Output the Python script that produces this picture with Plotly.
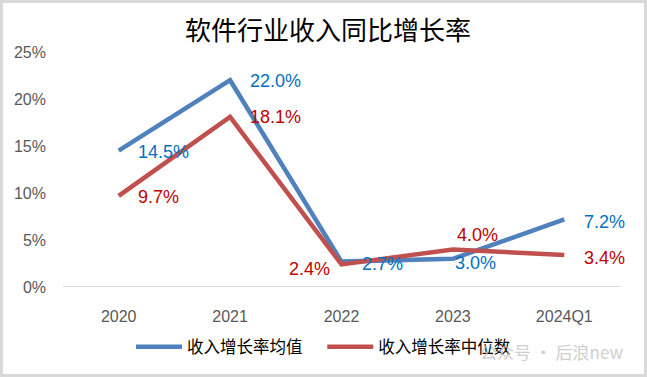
import plotly.graph_objects as go

categories = ["2020", "2021", "2022", "2023", "2024Q1"]
mean_growth = [14.5, 22.0, 2.7, 3.0, 7.2]
median_growth = [9.7, 18.1, 2.4, 4.0, 3.4]
y_ticks = [0, 5, 10, 15, 20, 25]
y_tick_labels = [f"{v}%" for v in y_ticks]

series_names = ["收入增长率均值", "收入增长率中位数"]
title_text = "软件行业收入同比增长率"
watermark_text = "公众号 · 后浪new"

BLUE = "#4F81BD"
RED = "#C0504D"
BLUE_LBL = "#0070C0"
RED_LBL = "#C00000"
LBL_FONT = "Liberation Sans, Arial, sans-serif"
CJK_FONT = "Noto Sans CJK SC, sans-serif"

# label placement (xanchor, xshift, yshift)
blue_pos = [("left", 17, -1), ("left", 18, -1), ("left", 18, -2), ("left", 0, -4), ("left", 18, -3)]
red_pos = [("left", 17, -1), ("left", 18, 0), ("right", -10, -5), ("left", 2, 14), ("left", 18, -3)]

W, H = 647, 377
ml, mr, mt, mb = 63, 27, 52, 90
pw, ph = W - ml - mr, H - mt - mb

fig = go.Figure()
fig.add_trace(go.Scatter(x=categories, y=mean_growth, mode="lines", name=series_names[0] + "    ",
                         line=dict(color=BLUE, width=4.5)))
fig.add_trace(go.Scatter(x=categories, y=median_growth, mode="lines", name=series_names[1],
                         line=dict(color=RED, width=4.5)))

annotations = []
for vals, pos, col in ((mean_growth, blue_pos, BLUE_LBL), (median_growth, red_pos, RED_LBL)):
    for i, (v, (xa, xs, ys)) in enumerate(zip(vals, pos)):
        annotations.append(dict(x=i, y=v, xref="x", yref="y", text=f"{v:.1f}%", showarrow=False,
                                xanchor=xa, yanchor="middle", xshift=xs, yshift=ys,
                                font=dict(family=LBL_FONT, size=18, color=col)))

annotations.append(dict(x=(478 - ml) / pw, y=(H - mb - 351) / ph, xref="paper", yref="paper",
                        text=watermark_text, showarrow=False,
                        xanchor="left", yanchor="middle", opacity=0.75,
                        font=dict(family=CJK_FONT, size=17, color="#c0c0c0")))

fig.update_layout(
    width=W, height=H,
    margin=dict(l=ml, r=mr, t=mt, b=mb, autoexpand=False),
    paper_bgcolor="white", plot_bgcolor="white",
    title=dict(text=title_text, x=328 / W, xref="container", xanchor="center",
               y=1 - 31 / H, yref="container", yanchor="middle",
               font=dict(family=CJK_FONT, size=26, color="#000000")),
    xaxis=dict(type="category", range=[-0.5, 4.5], showgrid=False, zeroline=False,
               showline=False, ticks="", ticklabelstandoff=18,
               tickfont=dict(family=LBL_FONT, size=16, color="#595959")),
    yaxis=dict(range=[0, 25], tickvals=y_ticks, ticktext=y_tick_labels, showgrid=False,
               zeroline=False, showline=False, ticks="", ticklabelstandoff=16,
               tickfont=dict(family=LBL_FONT, size=16, color="#595959")),
    legend=dict(orientation="h", x=(W / 2 - ml) / pw, xanchor="center", y=(H - mb - 347) / ph,
                yanchor="middle", font=dict(family=CJK_FONT, size=16.5, color="#000000"),
                itemwidth=46, bgcolor="rgba(0,0,0,0)"),
    annotations=annotations,
    showlegend=True,
)

# baseline axis line at 0%
fig.add_shape(type="line", xref="paper", yref="y", x0=0, x1=1, y0=0, y1=0,
              line=dict(color="#D9D9D9", width=2), layer="below")
# outer chart border
fig.add_shape(type="rect", xref="paper", yref="paper",
              x0=(1.5 - ml) / pw, x1=(W - 1.5 - ml) / pw,
              y0=(H - mb - (H - 1.5)) / ph, y1=(H - mb - 1.5) / ph,
              line=dict(color="#D9D9D9", width=3), fillcolor="rgba(0,0,0,0)")

fig.write_html("out.html", config={"displayModeBar": False},
               post_script="document.body.style.margin='0';document.body.style.overflow='hidden';")
